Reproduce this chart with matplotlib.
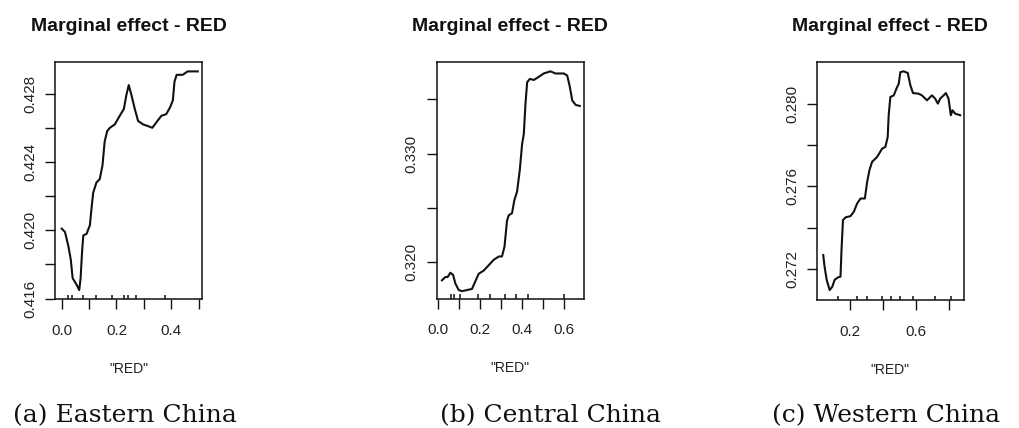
import matplotlib
matplotlib.use("Agg")
import matplotlib.pyplot as plt

# partial dependence of RED
east_x = [0.000, 0.012, 0.024, 0.033, 0.040, 0.055, 0.064, 0.069, 0.075, 0.079,
          0.091, 0.103, 0.109, 0.115, 0.127, 0.139, 0.149, 0.157, 0.166, 0.176,
          0.194, 0.212, 0.227, 0.236, 0.245, 0.255, 0.267, 0.279, 0.297, 0.315,
          0.331, 0.345, 0.364, 0.382, 0.396, 0.406, 0.412, 0.420, 0.442, 0.460, 0.497]
east_y = [0.4201, 0.4199, 0.4191, 0.4183, 0.4172, 0.4168, 0.4165, 0.4172, 0.4189, 0.4197,
          0.4198, 0.4203, 0.4213, 0.4222, 0.4228, 0.4230, 0.4238, 0.4252, 0.4258, 0.4260,
          0.4262, 0.4267, 0.4271, 0.4279, 0.4285, 0.4279, 0.4271, 0.4264, 0.4262, 0.4261,
          0.4260, 0.4263, 0.4267, 0.4268, 0.4272, 0.4276, 0.4287, 0.4291, 0.4291, 0.4293, 0.4293]
east_rug = [0.022, 0.036, 0.076, 0.127, 0.184, 0.228, 0.242, 0.273, 0.379]

central_x = [0.019, 0.035, 0.046, 0.059, 0.072, 0.083, 0.099, 0.115, 0.138, 0.162,
             0.178, 0.194, 0.218, 0.242, 0.266, 0.290, 0.305, 0.317, 0.329, 0.337,
             0.353, 0.364, 0.377, 0.390, 0.401, 0.409, 0.417, 0.425, 0.438, 0.457,
             0.481, 0.504, 0.536, 0.560, 0.600, 0.616, 0.628, 0.640, 0.656, 0.676]
central_y = [0.3183, 0.3186, 0.3186, 0.3190, 0.3188, 0.3180, 0.3174, 0.3173, 0.3174, 0.3175,
             0.3182, 0.3189, 0.3192, 0.3197, 0.3202, 0.3205, 0.3205, 0.3214, 0.3238, 0.3243,
             0.3245, 0.3257, 0.3265, 0.3285, 0.3309, 0.3318, 0.3346, 0.3366, 0.3369, 0.3368,
             0.3371, 0.3374, 0.3376, 0.3374, 0.3374, 0.3372, 0.3362, 0.3349, 0.3345, 0.3344]
central_rug = [0.060, 0.076, 0.103, 0.190, 0.246, 0.318, 0.370, 0.429, 0.599]

west_x = [0.038, 0.046, 0.059, 0.077, 0.093, 0.107, 0.127, 0.143, 0.149, 0.158,
          0.174, 0.204, 0.224, 0.244, 0.265, 0.291, 0.305, 0.319, 0.335, 0.366,
          0.396, 0.416, 0.430, 0.436, 0.446, 0.467, 0.483, 0.497, 0.507, 0.527,
          0.552, 0.568, 0.584, 0.618, 0.638, 0.669, 0.699, 0.719, 0.735, 0.749,
          0.770, 0.784, 0.800, 0.814, 0.824, 0.840, 0.871]
west_y = [0.27269, 0.27213, 0.27149, 0.27100, 0.27116, 0.27149, 0.27161, 0.27165, 0.27293, 0.27438,
          0.27451, 0.27457, 0.27478, 0.27518, 0.27542, 0.27542, 0.27622, 0.27679, 0.27719, 0.27743,
          0.27783, 0.27791, 0.27839, 0.27944, 0.28032, 0.28040, 0.28072, 0.28096, 0.28152, 0.28156,
          0.28148, 0.28088, 0.28051, 0.28048, 0.28040, 0.28016, 0.28040, 0.28024, 0.28000, 0.28024,
          0.28040, 0.28051, 0.28024, 0.27944, 0.27968, 0.27952, 0.27944]
west_rug = [0.130, 0.245, 0.305, 0.396, 0.453, 0.507, 0.584, 0.715, 0.816]

captions = ["(a) Eastern China", "(b) Central China", "(c) Western China"]

W, H = 1019, 428
fig = plt.figure(figsize=(W / 100, H / 100), dpi=100)

panels = [
    dict(x=east_x, y=east_y, rug=east_rug, box=(55, 62, 202, 299),
         xlim=(-0.0245, 0.5125), ylim=(0.41598, 0.42985),
         xt=[0.0, 0.1, 0.2, 0.3, 0.4, 0.5], xl=["0.0", "", "0.2", "", "0.4", ""],
         yt=[0.416, 0.418, 0.420, 0.422, 0.424, 0.426, 0.428],
         yl=["0.416", "", "0.420", "", "0.424", "", "0.428"], cx=13),
    dict(x=central_x, y=central_y, rug=central_rug, box=(436.5, 62, 583.5, 298.5),
         xlim=(-0.007, 0.6935), ylim=(0.31662, 0.33846),
         xt=[0.0, 0.1, 0.2, 0.3, 0.4, 0.5, 0.6], xl=["0.0", "", "0.2", "", "0.4", "", "0.6"],
         yt=[0.320, 0.325, 0.330, 0.335], yl=["0.320", "", "0.330", ""], cx=440),
    dict(x=west_x, y=west_y, rug=west_rug, box=(817, 62, 963.5, 300),
         xlim=(0.0, 0.891), ylim=(0.27052, 0.28201),
         xt=[0.2, 0.4, 0.6, 0.8], xl=["0.2", "", "0.6", ""],
         yt=[0.272, 0.274, 0.276, 0.278, 0.280],
         yl=["0.272", "", "0.276", "", "0.280"], cx=772),
]

for i, p in enumerate(panels):
    l, t, r, b = p["box"]
    ax = fig.add_axes([l / W, 1 - b / H, (r - l) / W, (b - t) / H])
    ax.plot(p["x"], p["y"], color="#111111", lw=1.5)
    ax.vlines(p["rug"], 0, 0.018, transform=ax.get_xaxis_transform(),
              color="#111111", lw=1.1)
    ax.set_xlim(*p["xlim"])
    ax.set_ylim(*p["ylim"])
    ax.set_xticks(p["xt"], p["xl"])
    ax.set_yticks(p["yt"], p["yl"])
    ax.tick_params(axis="both", direction="out", length=7, width=1.0,
                   color="#111111", labelsize=11, labelcolor="#222222")
    ax.tick_params(axis="x", pad=11)
    ax.tick_params(axis="y", pad=6)
    for lab in ax.get_yticklabels():
        lab.set_rotation(90)
        lab.set_va("center")
    for lab in ax.get_xticklabels() + ax.get_yticklabels():
        lab.set_family("Liberation Sans")
    for s in ax.spines.values():
        s.set_linewidth(1.1)
        s.set_color("#111111")
    ax.set_title("Marginal effect - RED", fontsize=14, fontweight="bold",
                 family="Liberation Sans", color="#111111", pad=22)
    ax.set_xlabel('"RED"', fontsize=10, family="Liberation Sans",
                  color="#222222", labelpad=17)
    fig.text(p["cx"] / W, 1 - 422 / H, captions[i], family="DejaVu Serif",
             fontsize=18, color="#111111", va="baseline", ha="left")

fig.savefig("out.png", dpi=100, facecolor="white")
